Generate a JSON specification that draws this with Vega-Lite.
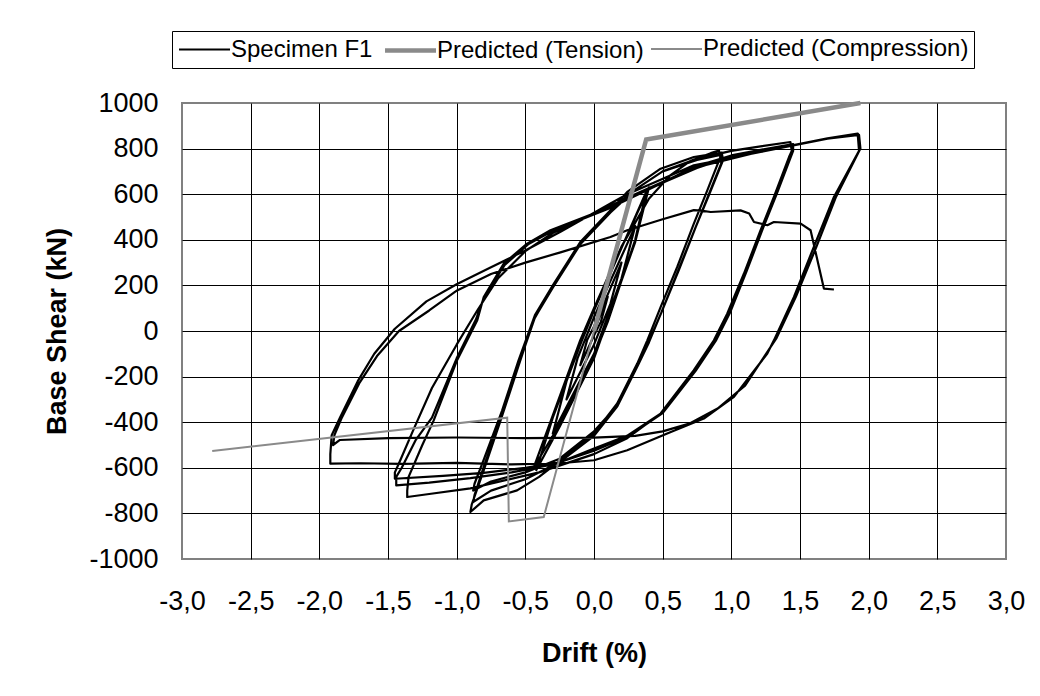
{
  "$schema": "https://vega.github.io/schema/vega-lite/v6.json",
  "width": 824,
  "height": 456,
  "autosize": {"type": "none"},
  "padding": {"left": 182, "top": 103, "right": 34, "bottom": 137},
  "background": "white",
  "config": {
    "locale": {"number": {"decimal": ",", "thousands": "", "grouping": [3], "currency": ["", ""], "minus": "-"}},
    "font": "Liberation Sans",
    "view": {"stroke": "#808080", "strokeWidth": 2},
    "axis": {"labelFont": "Liberation Sans", "titleFont": "Liberation Sans", "labelColor": "black", "titleColor": "black"}
  },
  "datasets": {
    "spec": [
      {"s":"Specimen F1","d":0,"v":0},{"s":"Specimen F1","d":0.1,"v":150},{"s":"Specimen F1","d":0.05,"v":40},{"s":"Specimen F1","d":0,"v":-20},{"s":"Specimen F1","d":-0.1,"v":-150},{"s":"Specimen F1","d":-0.05,"v":-40},{"s":"Specimen F1","d":0,"v":20},
      {"s":"Specimen F1","d":0.2,"v":300},{"s":"Specimen F1","d":0.12,"v":120},{"s":"Specimen F1","d":0,"v":-60},{"s":"Specimen F1","d":-0.2,"v":-300},{"s":"Specimen F1","d":-0.12,"v":-120},{"s":"Specimen F1","d":0,"v":60},
      {"s":"Specimen F1","d":0.3,"v":460},{"s":"Specimen F1","d":0.2,"v":230},{"s":"Specimen F1","d":0,"v":-100},{"s":"Specimen F1","d":-0.3,"v":-450},{"s":"Specimen F1","d":-0.2,"v":-220},{"s":"Specimen F1","d":0,"v":100},
      {"s":"Specimen F1","d":0.4,"v":630},{"s":"Specimen F1","d":0.3,"v":390},{"s":"Specimen F1","d":0.1,"v":50},{"s":"Specimen F1","d":0,"v":-120},{"s":"Specimen F1","d":-0.25,"v":-420},{"s":"Specimen F1","d":-0.42,"v":-610},{"s":"Specimen F1","d":-0.3,"v":-380},{"s":"Specimen F1","d":-0.1,"v":-60},{"s":"Specimen F1","d":0,"v":90},
      {"s":"Specimen F1","d":0.38,"v":610},{"s":"Specimen F1","d":0.3,"v":400},{"s":"Specimen F1","d":0.1,"v":40},{"s":"Specimen F1","d":0,"v":-110},{"s":"Specimen F1","d":-0.25,"v":-410},{"s":"Specimen F1","d":-0.44,"v":-600},{"s":"Specimen F1","d":-0.3,"v":-370},{"s":"Specimen F1","d":-0.1,"v":-40},{"s":"Specimen F1","d":0,"v":100},
      {"s":"Specimen F1","d":0.2,"v":370},{"s":"Specimen F1","d":0.4,"v":580},{"s":"Specimen F1","d":0.55,"v":680},{"s":"Specimen F1","d":0.7,"v":745},{"s":"Specimen F1","d":0.85,"v":780},{"s":"Specimen F1","d":0.91,"v":792},
      {"s":"Specimen F1","d":0.92,"v":763},{"s":"Specimen F1","d":0.825,"v":617},{"s":"Specimen F1","d":0.727,"v":471},{"s":"Specimen F1","d":0.606,"v":281},{"s":"Specimen F1","d":0.485,"v":105},{"s":"Specimen F1","d":0.388,"v":-41},{"s":"Specimen F1","d":0.315,"v":-143},{"s":"Specimen F1","d":0.169,"v":-318},{"s":"Specimen F1","d":0,"v":-450},{"s":"Specimen F1","d":-0.244,"v":-567},{"s":"Specimen F1","d":-0.4,"v":-640},{"s":"Specimen F1","d":-0.56,"v":-699},{"s":"Specimen F1","d":-0.803,"v":-743},{"s":"Specimen F1","d":-0.9,"v":-794},
      {"s":"Specimen F1","d":-0.89,"v":-760},{"s":"Specimen F1","d":-0.803,"v":-611},{"s":"Specimen F1","d":-0.68,"v":-392},{"s":"Specimen F1","d":-0.56,"v":-172},{"s":"Specimen F1","d":-0.44,"v":47},{"s":"Specimen F1","d":-0.317,"v":178},{"s":"Specimen F1","d":-0.122,"v":368},{"s":"Specimen F1","d":0.12,"v":529},{"s":"Specimen F1","d":0.242,"v":610},{"s":"Specimen F1","d":0.485,"v":712},{"s":"Specimen F1","d":0.727,"v":763},{"s":"Specimen F1","d":0.93,"v":782},
      {"s":"Specimen F1","d":0.94,"v":750},{"s":"Specimen F1","d":0.84,"v":600},{"s":"Specimen F1","d":0.74,"v":455},{"s":"Specimen F1","d":0.62,"v":270},{"s":"Specimen F1","d":0.5,"v":95},{"s":"Specimen F1","d":0.4,"v":-50},{"s":"Specimen F1","d":0.32,"v":-150},{"s":"Specimen F1","d":0.17,"v":-330},{"s":"Specimen F1","d":0,"v":-460},{"s":"Specimen F1","d":-0.25,"v":-575},{"s":"Specimen F1","d":-0.5,"v":-650},{"s":"Specimen F1","d":-0.75,"v":-700},{"s":"Specimen F1","d":-0.88,"v":-750},
      {"s":"Specimen F1","d":-0.87,"v":-720},{"s":"Specimen F1","d":-0.8,"v":-590},{"s":"Specimen F1","d":-0.67,"v":-370},{"s":"Specimen F1","d":-0.55,"v":-150},{"s":"Specimen F1","d":-0.43,"v":60},{"s":"Specimen F1","d":-0.3,"v":190},{"s":"Specimen F1","d":-0.1,"v":380},{"s":"Specimen F1","d":0.12,"v":520},{"s":"Specimen F1","d":0.3,"v":620},{"s":"Specimen F1","d":0.5,"v":700},{"s":"Specimen F1","d":0.75,"v":750},{"s":"Specimen F1","d":0.92,"v":772},
      {"s":"Specimen F1","d":0.93,"v":740},{"s":"Specimen F1","d":0.83,"v":590},{"s":"Specimen F1","d":0.73,"v":440},{"s":"Specimen F1","d":0.61,"v":260},{"s":"Specimen F1","d":0.49,"v":80},{"s":"Specimen F1","d":0.39,"v":-60},{"s":"Specimen F1","d":0.3,"v":-170},{"s":"Specimen F1","d":0.15,"v":-340},{"s":"Specimen F1","d":0,"v":-440},{"s":"Specimen F1","d":-0.25,"v":-560},{"s":"Specimen F1","d":-0.5,"v":-620},{"s":"Specimen F1","d":-0.75,"v":-660},{"s":"Specimen F1","d":-0.88,"v":-700},
      {"s":"Specimen F1","d":-0.87,"v":-670},{"s":"Specimen F1","d":-0.8,"v":-560},{"s":"Specimen F1","d":-0.67,"v":-350},{"s":"Specimen F1","d":-0.55,"v":-130},{"s":"Specimen F1","d":-0.43,"v":70},{"s":"Specimen F1","d":-0.3,"v":200},{"s":"Specimen F1","d":-0.1,"v":390},{"s":"Specimen F1","d":0.12,"v":530},{"s":"Specimen F1","d":0.3,"v":620},{"s":"Specimen F1","d":0.5,"v":700},{"s":"Specimen F1","d":0.75,"v":755},{"s":"Specimen F1","d":1.0,"v":790},{"s":"Specimen F1","d":1.213,"v":810},{"s":"Specimen F1","d":1.43,"v":829},
      {"s":"Specimen F1","d":1.44,"v":790},{"s":"Specimen F1","d":1.42,"v":763},{"s":"Specimen F1","d":1.31,"v":588},{"s":"Specimen F1","d":1.213,"v":442},{"s":"Specimen F1","d":1.092,"v":252},{"s":"Specimen F1","d":0.97,"v":76},{"s":"Specimen F1","d":0.873,"v":-41},{"s":"Specimen F1","d":0.727,"v":-172},{"s":"Specimen F1","d":0.485,"v":-362},{"s":"Specimen F1","d":0.242,"v":-470},{"s":"Specimen F1","d":0,"v":-540},{"s":"Specimen F1","d":-0.4,"v":-620},{"s":"Specimen F1","d":-0.9,"v":-690},{"s":"Specimen F1","d":-1.2,"v":-715},{"s":"Specimen F1","d":-1.36,"v":-728},
      {"s":"Specimen F1","d":-1.36,"v":-700},{"s":"Specimen F1","d":-1.35,"v":-640},{"s":"Specimen F1","d":-1.25,"v":-500},{"s":"Specimen F1","d":-1.167,"v":-392},{"s":"Specimen F1","d":-0.997,"v":-128},{"s":"Specimen F1","d":-0.85,"v":47},{"s":"Specimen F1","d":-0.803,"v":149},{"s":"Specimen F1","d":-0.657,"v":296},{"s":"Specimen F1","d":-0.487,"v":383},{"s":"Specimen F1","d":-0.317,"v":442},{"s":"Specimen F1","d":0.12,"v":544},{"s":"Specimen F1","d":0.5,"v":650},{"s":"Specimen F1","d":0.727,"v":720},{"s":"Specimen F1","d":1.0,"v":770},{"s":"Specimen F1","d":1.213,"v":795},{"s":"Specimen F1","d":1.45,"v":820},
      {"s":"Specimen F1","d":1.45,"v":790},{"s":"Specimen F1","d":1.33,"v":600},{"s":"Specimen F1","d":1.23,"v":450},{"s":"Specimen F1","d":1.11,"v":260},{"s":"Specimen F1","d":0.99,"v":80},{"s":"Specimen F1","d":0.89,"v":-40},{"s":"Specimen F1","d":0.74,"v":-175},{"s":"Specimen F1","d":0.5,"v":-360},{"s":"Specimen F1","d":0.25,"v":-462},{"s":"Specimen F1","d":0,"v":-525},{"s":"Specimen F1","d":-0.3,"v":-585},{"s":"Specimen F1","d":-0.6,"v":-620},{"s":"Specimen F1","d":-0.9,"v":-645},{"s":"Specimen F1","d":-1.2,"v":-665},{"s":"Specimen F1","d":-1.44,"v":-677},
      {"s":"Specimen F1","d":-1.44,"v":-640},{"s":"Specimen F1","d":-1.4,"v":-600},{"s":"Specimen F1","d":-1.3,"v":-480},{"s":"Specimen F1","d":-1.18,"v":-380},{"s":"Specimen F1","d":-1.0,"v":-120},{"s":"Specimen F1","d":-0.86,"v":50},{"s":"Specimen F1","d":-0.8,"v":150},{"s":"Specimen F1","d":-0.65,"v":290},{"s":"Specimen F1","d":-0.48,"v":380},{"s":"Specimen F1","d":-0.3,"v":440},{"s":"Specimen F1","d":0.1,"v":535},{"s":"Specimen F1","d":0.5,"v":650},{"s":"Specimen F1","d":0.75,"v":715},{"s":"Specimen F1","d":1.0,"v":765},{"s":"Specimen F1","d":1.23,"v":790},{"s":"Specimen F1","d":1.44,"v":815},
      {"s":"Specimen F1","d":1.44,"v":780},{"s":"Specimen F1","d":1.32,"v":590},{"s":"Specimen F1","d":1.22,"v":440},{"s":"Specimen F1","d":1.1,"v":250},{"s":"Specimen F1","d":0.98,"v":70},{"s":"Specimen F1","d":0.88,"v":-45},{"s":"Specimen F1","d":0.73,"v":-170},{"s":"Specimen F1","d":0.49,"v":-360},{"s":"Specimen F1","d":0.24,"v":-460},{"s":"Specimen F1","d":0,"v":-515},{"s":"Specimen F1","d":-0.244,"v":-575},{"s":"Specimen F1","d":-0.5,"v":-600},{"s":"Specimen F1","d":-0.803,"v":-622},{"s":"Specimen F1","d":-1.1,"v":-635},{"s":"Specimen F1","d":-1.45,"v":-648},
      {"s":"Specimen F1","d":-1.45,"v":-620},{"s":"Specimen F1","d":-1.42,"v":-580},{"s":"Specimen F1","d":-1.32,"v":-440},{"s":"Specimen F1","d":-1.18,"v":-250},{"s":"Specimen F1","d":-1.0,"v":-60},{"s":"Specimen F1","d":-0.85,"v":90},{"s":"Specimen F1","d":-0.7,"v":230},{"s":"Specimen F1","d":-0.5,"v":350},{"s":"Specimen F1","d":-0.3,"v":430},{"s":"Specimen F1","d":0,"v":515},{"s":"Specimen F1","d":0.3,"v":600},{"s":"Specimen F1","d":0.727,"v":715},{"s":"Specimen F1","d":1.2,"v":785},{"s":"Specimen F1","d":1.7,"v":845},{"s":"Specimen F1","d":1.92,"v":866},
      {"s":"Specimen F1","d":1.93,"v":790},{"s":"Specimen F1","d":1.747,"v":588},{"s":"Specimen F1","d":1.6,"v":368},{"s":"Specimen F1","d":1.456,"v":149},{"s":"Specimen F1","d":1.31,"v":-41},{"s":"Specimen F1","d":1.262,"v":-99},{"s":"Specimen F1","d":1.019,"v":-289},{"s":"Specimen F1","d":0.8,"v":-384},{"s":"Specimen F1","d":0.533,"v":-450},{"s":"Specimen F1","d":0.242,"v":-523},{"s":"Specimen F1","d":0,"v":-567},{"s":"Specimen F1","d":-0.244,"v":-580},{"s":"Specimen F1","d":-0.6,"v":-585},{"s":"Specimen F1","d":-1.0,"v":-578},{"s":"Specimen F1","d":-1.4,"v":-583},{"s":"Specimen F1","d":-1.7,"v":-580},{"s":"Specimen F1","d":-1.92,"v":-582},
      {"s":"Specimen F1","d":-1.92,"v":-540},{"s":"Specimen F1","d":-1.91,"v":-457},{"s":"Specimen F1","d":-1.85,"v":-380},{"s":"Specimen F1","d":-1.72,"v":-220},{"s":"Specimen F1","d":-1.6,"v":-100},{"s":"Specimen F1","d":-1.45,"v":10},{"s":"Specimen F1","d":-1.22,"v":130},{"s":"Specimen F1","d":-1.0,"v":205},{"s":"Specimen F1","d":-0.75,"v":280},{"s":"Specimen F1","d":-0.511,"v":350},{"s":"Specimen F1","d":-0.244,"v":435},{"s":"Specimen F1","d":0.12,"v":559},{"s":"Specimen F1","d":0.242,"v":600},{"s":"Specimen F1","d":0.727,"v":727},{"s":"Specimen F1","d":1.213,"v":785},{"s":"Specimen F1","d":1.7,"v":844},{"s":"Specimen F1","d":1.93,"v":860},
      {"s":"Specimen F1","d":1.94,"v":800},{"s":"Specimen F1","d":1.76,"v":585},{"s":"Specimen F1","d":1.62,"v":370},{"s":"Specimen F1","d":1.47,"v":150},{"s":"Specimen F1","d":1.33,"v":-30},{"s":"Specimen F1","d":1.1,"v":-240},{"s":"Specimen F1","d":0.9,"v":-340},{"s":"Specimen F1","d":0.7,"v":-405},{"s":"Specimen F1","d":0.5,"v":-440},{"s":"Specimen F1","d":0.3,"v":-460},{"s":"Specimen F1","d":0,"v":-468},{"s":"Specimen F1","d":-0.5,"v":-470},{"s":"Specimen F1","d":-1.0,"v":-467},{"s":"Specimen F1","d":-1.5,"v":-470},{"s":"Specimen F1","d":-1.85,"v":-478},{"s":"Specimen F1","d":-1.9,"v":-500},
      {"s":"Specimen F1","d":-1.89,"v":-457},{"s":"Specimen F1","d":-1.84,"v":-385},{"s":"Specimen F1","d":-1.71,"v":-230},{"s":"Specimen F1","d":-1.58,"v":-110},{"s":"Specimen F1","d":-1.42,"v":0},{"s":"Specimen F1","d":-1.2,"v":90},{"s":"Specimen F1","d":-0.997,"v":178},{"s":"Specimen F1","d":-0.75,"v":250},{"s":"Specimen F1","d":-0.5,"v":300},{"s":"Specimen F1","d":-0.244,"v":345},{"s":"Specimen F1","d":0.12,"v":412},{"s":"Specimen F1","d":0.242,"v":442},{"s":"Specimen F1","d":0.5,"v":490},{"s":"Specimen F1","d":0.727,"v":530},{"s":"Specimen F1","d":0.78,"v":528},{"s":"Specimen F1","d":0.85,"v":522},{"s":"Specimen F1","d":1.067,"v":529},{"s":"Specimen F1","d":1.13,"v":515},{"s":"Specimen F1","d":1.165,"v":478},{"s":"Specimen F1","d":1.262,"v":464},{"s":"Specimen F1","d":1.31,"v":478},{"s":"Specimen F1","d":1.505,"v":471},{"s":"Specimen F1","d":1.577,"v":442},{"s":"Specimen F1","d":1.674,"v":186},{"s":"Specimen F1","d":1.747,"v":182}
    ],
    "pred": [
      {"s":"Predicted (Tension)","d":0,"v":0},{"s":"Predicted (Tension)","d":0.38,"v":840},{"s":"Predicted (Tension)","d":1.94,"v":1000},
      {"s":"Predicted (Compression)","d":-2.78,"v":-526},{"s":"Predicted (Compression)","d":-0.632,"v":-380},{"s":"Predicted (Compression)","d":-0.62,"v":-835},{"s":"Predicted (Compression)","d":-0.366,"v":-816},{"s":"Predicted (Compression)","d":0,"v":0}
    ]
  },
  "encoding": {
    "x": {"field": "d", "type": "quantitative", "scale": {"domain": [-3, 3], "nice": false, "zero": false},
      "axis": {"values": [-3,-2.5,-2,-1.5,-1,-0.5,0,0.5,1,1.5,2,2.5,3], "format": ".1f", "grid": true, "labelOverlap": false, "labelFlush": false, "labelBound": false,
        "gridColor": {"condition": {"test": "abs(datum.value) > 2.9", "value": "transparent"}, "value": "black"},
        "gridWidth": 1, "domain": false, "ticks": false, "labelFontSize": 27, "labelPadding": 29,
        "title": "Drift (%)", "titleFontSize": 27, "titleFontWeight": "bold", "titleBaseline": "middle", "titleY": 94}},
    "y": {"field": "v", "type": "quantitative", "scale": {"domain": [-1000, 1000], "nice": false, "zero": false},
      "axis": {"values": [-1000,-800,-600,-400,-200,0,200,400,600,800,1000], "format": "d", "grid": true, "labelOverlap": false, "labelFlush": false,
        "gridColor": {"condition": {"test": "abs(datum.value) > 990", "value": "transparent"}, "value": "black"},
        "gridWidth": 1, "domain": false, "ticks": false, "labelFontSize": 27, "labelPadding": 24,
        "title": "Base Shear (kN)", "titleFontSize": 27, "titleFontWeight": "bold", "titleBaseline": "middle", "titleX": -125, "titleY": 228, "titleAngle": -90}}
  },
  "layer": [
    {"mark": {"type": "rule", "color": "#808080", "strokeWidth": 2}, "encoding": {"x": {"datum": 0}, "y": null}},
    {"data": {"name": "spec"},
     "mark": {"type": "line", "strokeJoin": "round"},
     "encoding": {
       "order": {"value": null},
       "color": {"field": "s", "type": "nominal", "scale": {"type": "ordinal", "domain": ["Specimen F1", "Predicted (Tension)", "Predicted (Compression)"], "range": ["#000000", "#8a8a8a", "#8a8a8a"]},
         "legend": {"orient": "none", "legendX": -10, "legendY": -72, "direction": "horizontal", "columns": 3, "gridAlign": "none", "title": null,
           "symbolType": "M-1.04,0H3.21", "symbolSize": 576, "labelFontSize": 24, "labelFont": "Liberation Sans", "labelColor": "black", "labelOffset": 25,
           "strokeColor": "black", "padding": 5, "columnPadding": 3, "labelLimit": 400}},
       "strokeWidth": {"field": "s", "type": "nominal", "scale": {"type": "ordinal", "domain": ["Specimen F1", "Predicted (Tension)", "Predicted (Compression)"], "range": [2.2, 4.5, 2]}, "legend": null}
     }},
    {"data": {"name": "pred"},
     "mark": {"type": "line", "strokeJoin": "miter"},
     "encoding": {
       "order": {"value": null},
       "color": {"field": "s", "type": "nominal", "scale": {"type": "ordinal", "domain": ["Specimen F1", "Predicted (Tension)", "Predicted (Compression)"], "range": ["#000000", "#8a8a8a", "#8a8a8a"]}},
       "strokeWidth": {"field": "s", "type": "nominal", "scale": {"type": "ordinal", "domain": ["Specimen F1", "Predicted (Tension)", "Predicted (Compression)"], "range": [2.2, 4.5, 2]}, "legend": null}
     }}
  ]
}
